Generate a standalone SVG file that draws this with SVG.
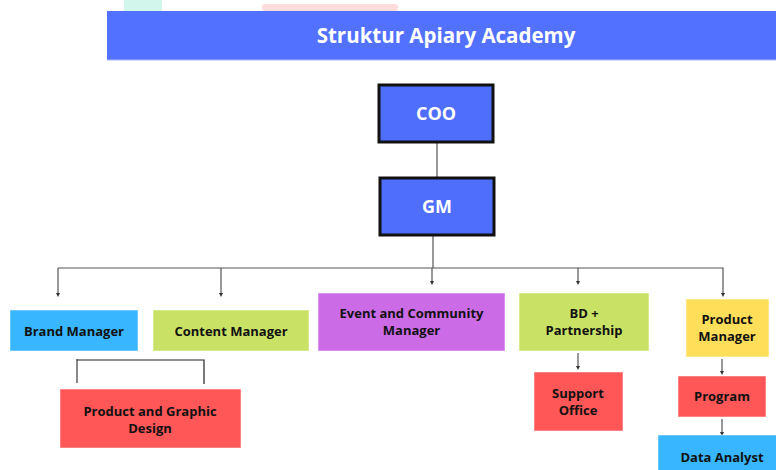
<svg xmlns="http://www.w3.org/2000/svg" width="776" height="470" viewBox="0 0 776 470">
<style>
.t{font-family:"Open Sans","Liberation Sans",sans-serif;font-weight:700;font-size:13px;fill:#111;text-anchor:middle}
.w{font-family:"Open Sans","Liberation Sans",sans-serif;font-weight:700;fill:#fff;text-anchor:middle}
.ln{stroke:#555;stroke-width:1.2;fill:none}
.box{stroke:#fff;stroke-opacity:0.5;stroke-width:1}
</style>
<defs>
<marker id="ah" markerWidth="4" markerHeight="4" refX="2" refY="2" orient="auto" markerUnits="userSpaceOnUse">
<path d="M0,0 L4,2 L0,4 Z" fill="#333"/>
</marker>
</defs>
<rect width="776" height="470" fill="#fff"/>
<rect x="124" y="0" width="38" height="11" fill="#d3f6ec"/>
<rect x="262" y="4" width="136" height="7" rx="3" fill="#ffdcdc"/>
<g id="title">
<rect x="107" y="11" width="669" height="49" fill="#5271ff"/>
<line x1="107" y1="60" x2="776" y2="60" stroke="#a9b8ff" stroke-width="1"/>
<text class="w" x="446" y="43" font-size="20.5">Struktur Apiary Academy</text>
</g>
<g id="connectors">
<line class="ln" x1="437" y1="143" x2="437" y2="177"/>
<line class="ln" x1="433" y1="236" x2="433" y2="268"/>
<polyline class="ln" points="58,268 723,268 723,295" marker-end="url(#ah)"/>
<line class="ln" x1="58" y1="268" x2="58" y2="295" marker-end="url(#ah)"/>
<line class="ln" x1="221" y1="268" x2="221" y2="295" marker-end="url(#ah)"/>
<line class="ln" x1="432" y1="268" x2="432" y2="283" marker-end="url(#ah)"/>
<line class="ln" x1="578" y1="268" x2="578" y2="283" marker-end="url(#ah)"/>
<line class="ln" x1="578" y1="353" x2="578" y2="368" marker-end="url(#ah)"/>
<line class="ln" x1="722" y1="359" x2="722" y2="373" marker-end="url(#ah)"/>
<line class="ln" x1="722" y1="419" x2="722" y2="434" marker-end="url(#ah)"/>
<line x1="77" y1="359" x2="77" y2="383" stroke="#888" stroke-width="2"/>
<polyline points="77,360 204,360 204,384" stroke="#222" stroke-width="1.2" fill="none"/>
</g>
<g id="coo">
<rect x="379" y="85" width="114" height="57" fill="#4f6efb" stroke="#111" stroke-width="3"/>
<text class="w" x="436" y="120" font-size="18">COO</text>
</g>
<g id="gm">
<rect x="380" y="178" width="114" height="57" fill="#4f6efb" stroke="#111" stroke-width="3"/>
<text class="w" x="437" y="213" font-size="18">GM</text>
</g>
<g id="brand">
<rect class="box" x="10" y="310" width="128" height="41" fill="#38b6ff"/>
<text class="t" x="74" y="336">Brand Manager</text>
</g>
<g id="content">
<rect class="box" x="153" y="310" width="156" height="41" fill="#c9e265"/>
<text class="t" x="231" y="336">Content Manager</text>
</g>
<g id="event">
<rect class="box" x="318" y="293" width="187" height="58" fill="#cb6ce6"/>
<text class="t" x="411.5" y="318">Event and Community</text>
<text class="t" x="411.5" y="335">Manager</text>
</g>
<g id="bd">
<rect class="box" x="519" y="293" width="130" height="58" fill="#c9e265"/>
<text class="t" x="584" y="318">BD +</text>
<text class="t" x="584" y="335">Partnership</text>
</g>
<g id="pm">
<rect class="box" x="686" y="299" width="83" height="58" fill="#ffde59"/>
<text class="t" x="727" y="324">Product</text>
<text class="t" x="727" y="341">Manager</text>
</g>
<g id="pgd">
<rect class="box" x="60" y="389" width="181" height="59" fill="#ff5757"/>
<text class="t" x="150" y="416">Product and Graphic</text>
<text class="t" x="150" y="433">Design</text>
</g>
<g id="support">
<rect class="box" x="534" y="372" width="89" height="59" fill="#ff5757"/>
<text class="t" x="578" y="398">Support</text>
<text class="t" x="578" y="415">Office</text>
</g>
<g id="program">
<rect class="box" x="678" y="376" width="88" height="41" fill="#ff5757"/>
<text class="t" x="722" y="401">Program</text>
</g>
<g id="data">
<rect class="box" x="658" y="435" width="125" height="40" fill="#38b6ff"/>
<text class="t" x="722" y="462">Data Analyst</text>
</g>
</svg>
